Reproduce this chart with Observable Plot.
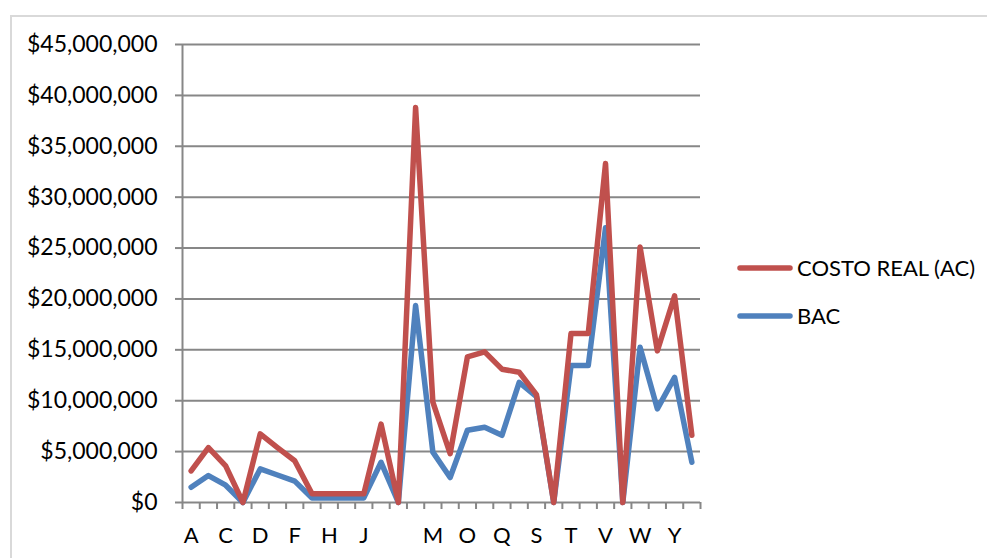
<!DOCTYPE html>
<html>
<head>
<meta charset="utf-8">
<script src="https://cdn.jsdelivr.net/npm/d3@7"></script>
<script src="https://cdn.jsdelivr.net/npm/@observablehq/plot@0.6"></script>
<style>
  html, body { margin: 0; padding: 0; background: #fff; overflow: hidden; }
  #wrap { position: relative; width: 987px; height: 558px; overflow: hidden; font-family: Lato, sans-serif; color: #000; }
  #frame { position: absolute; left: 10px; top: 15px; width: 1200px; height: 800px; border: 2px solid #d9d9d9; box-sizing: border-box; }
  #chart { position: absolute; left: 0; top: 0; }
  .key { position: absolute; left: 736px; display: flex; align-items: center; font-size: 22px; line-height: 1; white-space: nowrap; }
  .key svg { margin-right: 3px; }
</style>
</head>
<body>
<div id="wrap">
  <div id="frame"></div>
  <div id="chart"></div>
  <div id="legend"></div>
</div>
<script>
// Every second category carries a label on the axis
const tickLabels = ["A", "C", "D", "F", "H", "J", "", "M", "O", "Q", "S", "T", "V", "W", "Y"];

// Actual cost per item
const costoReal = [
  3.1e6, 5.4e6, 3.6e6, 0, 6.75e6, 5.4e6, 4.1e6, 0.85e6, 0.85e6, 0.85e6,
  0.85e6, 7.7e6, 0, 38.8e6, 9.85e6, 4.8e6, 14.3e6, 14.8e6, 13.1e6, 12.8e6,
  10.6e6, 0, 16.6e6, 16.6e6, 33.3e6, 0, 25.1e6, 14.9e6, 20.3e6, 6.6e6
];

// Budget at completion per item
const bac = [
  1.5e6, 2.65e6, 1.7e6, 0, 3.3e6, 2.7e6, 2.1e6, 0.45e6, 0.45e6, 0.45e6,
  0.45e6, 3.95e6, 0, 19.35e6, 4.95e6, 2.45e6, 7.1e6, 7.4e6, 6.6e6, 11.8e6,
  10.4e6, 0, 13.45e6, 13.45e6, 27.0e6, 0, 15.25e6, 9.2e6, 12.3e6, 3.95e6
];

const seriesNames = ["COSTO REAL (AC)", "BAC"];
const seriesColors = ["#C0504D", "#4F81BD"];
const yTicks = d3.range(0, 45e6 + 1, 5e6);

const n = costoReal.length;
const idx = d3.range(n);
const acRows = idx.map(i => ({ i, v: costoReal[i] }));
const bacRows = idx.map(i => ({ i, v: bac[i] }));

const axisGray = "#878787";
const money = d => "$" + d3.format(",")(d);

const chart = Plot.plot({
  width: 987,
  height: 558,
  marginLeft: 182,
  marginRight: 287,
  marginTop: 44,
  marginBottom: 56,
  style: { fontFamily: "Lato, sans-serif", fontSize: "22px", color: "#000", background: "transparent" },
  x: { type: "linear", domain: [-0.5, n - 0.5], label: null },
  y: { domain: [0, 45e6], label: null },
  marks: [
    Plot.gridY(yTicks, { stroke: axisGray, strokeOpacity: 1, strokeWidth: 2 }),
    Plot.axisY(yTicks, { label: null, tickSize: 7, tickPadding: 18, stroke: axisGray, strokeWidth: 2, tickFormat: money, fontSize: 23 }),
    Plot.ruleX([-0.5], { stroke: axisGray, strokeWidth: 2 }),
    Plot.axisX(d3.range(-0.5, n, 1), { label: null, tickSize: 7, stroke: axisGray, strokeWidth: 2, tickFormat: () => "" }),
    Plot.axisX(d3.range(0, n, 2), { label: null, tickSize: 0, tickPadding: 25, tickFormat: d => tickLabels[d / 2], fontSize: 22 }),
    Plot.line(bacRows, { x: "i", y: "v", stroke: seriesColors[1], strokeWidth: 5.5 }),
    Plot.line(acRows, { x: "i", y: "v", stroke: seriesColors[0], strokeWidth: 5.5 })
  ]
});
document.getElementById("chart").append(chart);

// Legend to the right of the plot
const legend = document.getElementById("legend");
const keyTops = [256, 304];
seriesNames.forEach((name, k) => {
  const row = document.createElement("div");
  row.className = "key";
  row.style.top = keyTops[k] + "px";
  row.innerHTML = `<svg width="58" height="24"><line x1="4" y1="12" x2="54" y2="12" stroke="${seriesColors[k]}" stroke-width="5.5" stroke-linecap="round"/></svg><span>${name}</span>`;
  legend.append(row);
});
</script>
</body>
</html>
